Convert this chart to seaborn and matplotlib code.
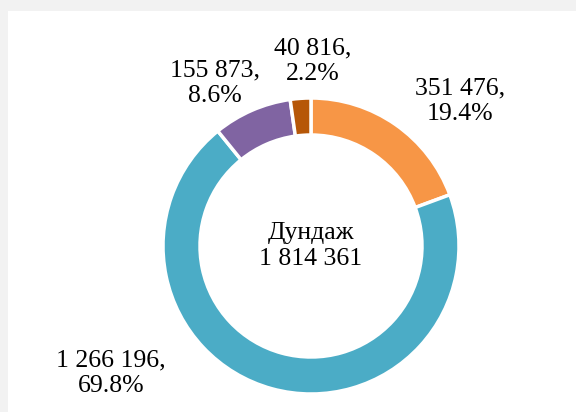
import matplotlib
matplotlib.use("Agg")
import matplotlib.pyplot as plt
import seaborn as sns

# =========================
# DATA
# =========================
values = [351476, 1266196, 155873, 40816]
shares = ["19.4%", "69.8%", "8.6%", "2.2%"]
value_labels = ["351 476", "1 266 196", "155 873", "40 816"]
center_title = "Дундаж"
center_total = "1 814 361"
colors = ["#F79646", "#4BACC6", "#8064A2", "#B65708"]

# label anchor points (data units, pie radius = 1)
label_pos = [(1.01, 0.98), (-1.35, -0.86), (-0.65, 1.10), (0.01, 1.25)]

# =========================
# PLOT
# =========================
sns.set_theme(style="white")
plt.rcParams["font.family"] = ["Liberation Serif", "DejaVu Serif"]

fig = plt.figure(figsize=(5.76, 4.12), dpi=100, facecolor="#F2F2F2")

# white chart panel
bg = fig.add_axes([8 / 576, 0, 568 / 576, 401 / 412], zorder=-5)
bg.set_facecolor("white")
bg.set_xticks([])
bg.set_yticks([])
for s in bg.spines.values():
    s.set_visible(False)

ax = fig.add_axes([0, 0, 1, 1])
ax.set_facecolor("none")

ax.pie(values, colors=colors, startangle=90, counterclock=False, radius=1,
       wedgeprops=dict(width=0.25, edgecolor="white", linewidth=2.5))

r = 148
cx, cy = 311, 412 - 246
ax.set_xlim(-cx / r, (576 - cx) / r)
ax.set_ylim(-cy / r, (412 - cy) / r)
ax.set_aspect("equal")
ax.axis("off")

for lab, sh, (x, y) in zip(value_labels, shares, label_pos):
    ax.text(x, y, f"{lab},\n{sh}", ha="center", va="center", fontsize=18.5,
            color="black", linespacing=1.2)

ax.text(0, 0, f"{center_title}\n{center_total}", ha="center", va="center",
        fontsize=18.5, color="black", linespacing=1.2)

fig.savefig("out.png", dpi=100, facecolor=fig.get_facecolor())
